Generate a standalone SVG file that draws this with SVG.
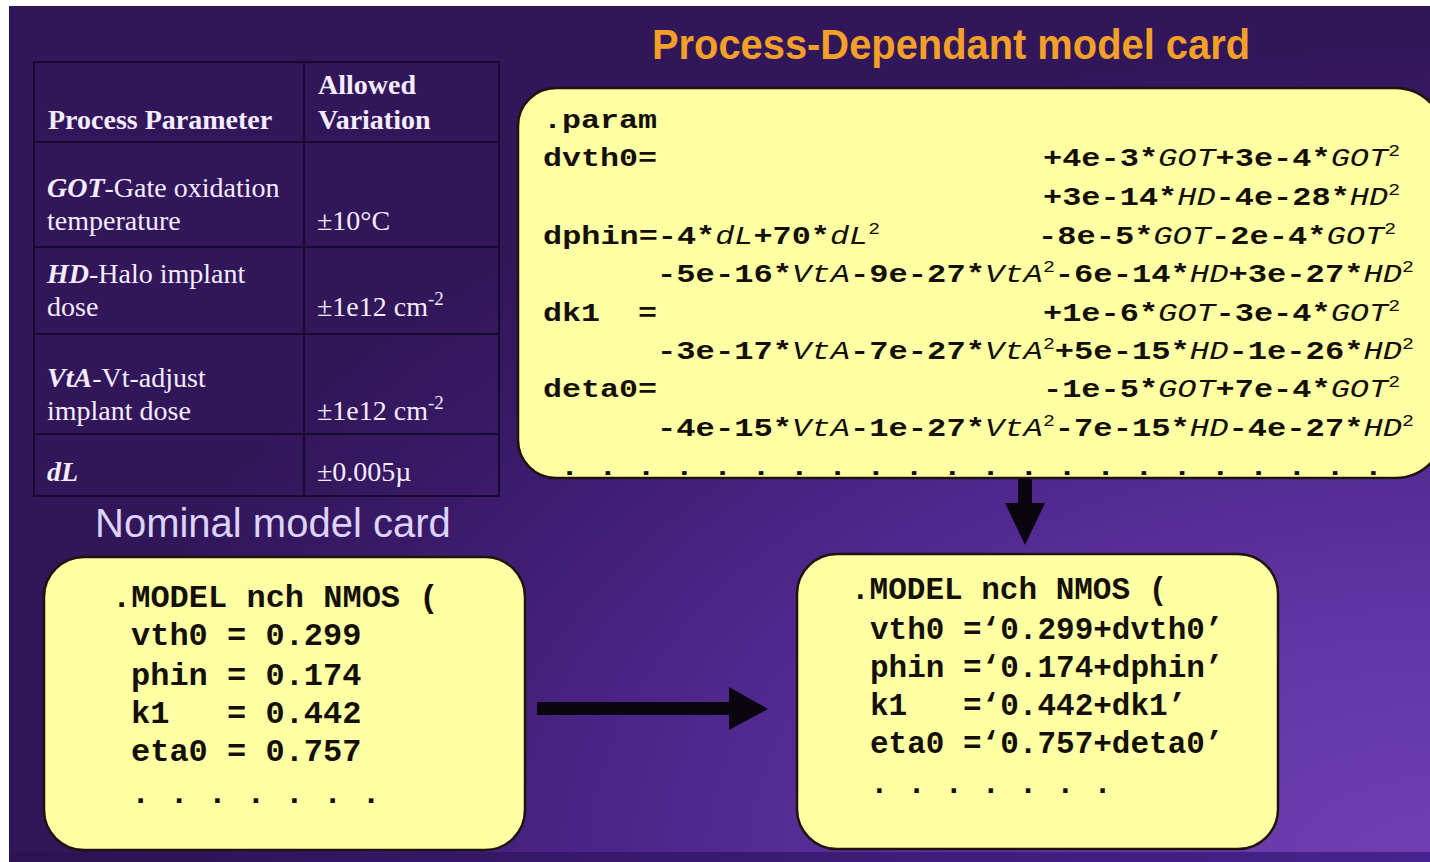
<svg xmlns="http://www.w3.org/2000/svg" width="1430" height="862" viewBox="0 0 1430 862">
<defs>
<radialGradient id="bg" gradientUnits="userSpaceOnUse" cx="1430" cy="860" r="1350" gradientTransform="translate(1430,860) scale(1,0.6) translate(-1430,-860)">
<stop offset="0" stop-color="#7040b0"/>
<stop offset="0.3" stop-color="#6234a4"/>
<stop offset="0.6" stop-color="#4c258a"/>
<stop offset="0.85" stop-color="#3a1a68"/>
<stop offset="1" stop-color="#32165a"/>
</radialGradient>
<linearGradient id="strip" x1="0" y1="0" x2="1" y2="0">
<stop offset="0" stop-color="#2c1252"/>
<stop offset="1" stop-color="#48228e"/>
</linearGradient>
<style>
.card{fill:#ffffa4;stroke:#1e140c;stroke-width:2.5}
.tb{fill:none;stroke:#170a2c;stroke-width:2}
.tt{font-family:"Liberation Serif","Times New Roman",serif;font-size:28px;fill:#f4ecff}
.th{font-weight:bold}
.bi{font-weight:bold;font-style:italic}
.mono{font-family:"Liberation Mono","Courier New",monospace;font-weight:bold;fill:#141008}
.pm{font-size:26px}
.bx{font-size:32px}
.bx2{font-size:31px}
.it{font-style:italic;font-weight:normal}
.sup{font-size:16px;font-weight:normal}
.arrow{fill:#0a0610}
</style>
</defs>
<rect x="0" y="0" width="1430" height="862" fill="#ffffff"/>
<rect x="9" y="6" width="1421" height="856" fill="url(#bg)"/>
<rect x="9" y="852" width="1421" height="10" fill="url(#strip)"/>

<text x="652" y="59" font-family="'Liberation Sans',Arial,sans-serif" font-weight="bold" font-size="42" fill="#f2a028" textLength="598" lengthAdjust="spacingAndGlyphs">Process-Dependant model card</text>
<text x="95" y="537" font-family="'Liberation Sans',Arial,sans-serif" font-size="40" fill="#dcd4fc">Nominal model card</text>

<g id="table">
<rect class="tb" x="34" y="62" width="465" height="434"/>
<line class="tb" x1="304" y1="62" x2="304" y2="496"/>
<line class="tb" x1="34" y1="142" x2="499" y2="142"/>
<line class="tb" x1="34" y1="247" x2="499" y2="247"/>
<line class="tb" x1="34" y1="334" x2="499" y2="334"/>
<line class="tb" x1="34" y1="434" x2="499" y2="434"/>
<text class="tt th" x="48" y="129">Process Parameter</text>
<text class="tt th" x="318" y="94">Allowed</text>
<text class="tt th" x="318" y="129">Variation</text>
<text class="tt" x="47" y="197"><tspan class="bi">GOT</tspan>-Gate oxidation</text>
<text class="tt" x="47" y="230">temperature</text>
<text class="tt" x="317" y="230">±10°C</text>
<text class="tt" x="47" y="283"><tspan class="bi">HD</tspan>-Halo implant</text>
<text class="tt" x="47" y="316">dose</text>
<text class="tt" x="317" y="316">±1e12 cm<tspan dy="-11" font-size="19">-2</tspan></text>
<text class="tt" x="47" y="387"><tspan class="bi">VtA</tspan>-Vt-adjust</text>
<text class="tt" x="47" y="420">implant dose</text>
<text class="tt" x="317" y="420">±1e12 cm<tspan dy="-11" font-size="19">-2</tspan></text>
<text class="tt" x="47" y="481"><tspan class="bi">dL</tspan></text>
<text class="tt" x="317" y="481">±0.005µ</text>
</g>

<g id="param-card">
<path class="card" d="M556,88 H1395 A50,50 0 0 1 1445,138 V428 A50,50 0 0 1 1395,478 H556 A38,38 0 0 1 518,440 V126 A38,38 0 0 1 556,88 Z"/>
<text class="mono pm" x="543" y="128" textLength="114" lengthAdjust="spacingAndGlyphs">.param</text>
<text class="mono pm" x="543" y="166" textLength="114" lengthAdjust="spacingAndGlyphs">dvth0=</text>
<text class="mono pm" x="1043" y="166" textLength="357" lengthAdjust="spacingAndGlyphs">+4e-3*<tspan class="it">GOT</tspan>+3e-4*<tspan class="it">GOT</tspan><tspan class="sup" dy="-10">2</tspan></text>
<text class="mono pm" x="1043" y="205" textLength="357" lengthAdjust="spacingAndGlyphs">+3e-14*<tspan class="it">HD</tspan>-4e-28*<tspan class="it">HD</tspan><tspan class="sup" dy="-10">2</tspan></text>
<text class="mono pm" x="543" y="244" textLength="337" lengthAdjust="spacingAndGlyphs">dphin=-4*<tspan class="it">dL</tspan>+70*<tspan class="it">dL</tspan><tspan class="sup" dy="-10">2</tspan></text>
<text class="mono pm" x="1038" y="244" textLength="358" lengthAdjust="spacingAndGlyphs">-8e-5*<tspan class="it">GOT</tspan>-2e-4*<tspan class="it">GOT</tspan><tspan class="sup" dy="-10">2</tspan></text>
<text class="mono pm" x="657" y="282" textLength="757" lengthAdjust="spacingAndGlyphs">-5e-16*<tspan class="it">VtA</tspan>-9e-27*<tspan class="it">VtA</tspan><tspan class="sup" dy="-10">2</tspan><tspan dy="10">-6e-14*</tspan><tspan class="it">HD</tspan>+3e-27*<tspan class="it">HD</tspan><tspan class="sup" dy="-10">2</tspan></text>
<text class="mono pm" x="543" y="321" textLength="114" lengthAdjust="spacingAndGlyphs" xml:space="preserve">dk1  =</text>
<text class="mono pm" x="1043" y="321" textLength="357" lengthAdjust="spacingAndGlyphs">+1e-6*<tspan class="it">GOT</tspan>-3e-4*<tspan class="it">GOT</tspan><tspan class="sup" dy="-10">2</tspan></text>
<text class="mono pm" x="657" y="359" textLength="757" lengthAdjust="spacingAndGlyphs">-3e-17*<tspan class="it">VtA</tspan>-7e-27*<tspan class="it">VtA</tspan><tspan class="sup" dy="-10">2</tspan><tspan dy="10">+5e-15*</tspan><tspan class="it">HD</tspan>-1e-26*<tspan class="it">HD</tspan><tspan class="sup" dy="-10">2</tspan></text>
<text class="mono pm" x="543" y="397" textLength="114" lengthAdjust="spacingAndGlyphs">deta0=</text>
<text class="mono pm" x="1043" y="397" textLength="357" lengthAdjust="spacingAndGlyphs">-1e-5*<tspan class="it">GOT</tspan>+7e-4*<tspan class="it">GOT</tspan><tspan class="sup" dy="-10">2</tspan></text>
<text class="mono pm" x="657" y="436" textLength="757" lengthAdjust="spacingAndGlyphs">-4e-15*<tspan class="it">VtA</tspan>-1e-27*<tspan class="it">VtA</tspan><tspan class="sup" dy="-10">2</tspan><tspan dy="10">-7e-15*</tspan><tspan class="it">HD</tspan>-4e-27*<tspan class="it">HD</tspan><tspan class="sup" dy="-10">2</tspan></text>
<text class="mono pm" x="560" y="475" textLength="823" lengthAdjust="spacingAndGlyphs">. . . . . . . . . . . . . . . . . . . . . .</text>
</g>

<g id="nominal-card">
<rect class="card" x="44" y="557" width="481" height="293" rx="40" ry="40"/>
<text class="mono bx" x="112" y="607">.MODEL nch NMOS (</text>
<text class="mono bx" x="131" y="645">vth0 = 0.299</text>
<text class="mono bx" x="131" y="685">phin = 0.174</text>
<text class="mono bx" x="131" y="723" xml:space="preserve">k1   = 0.442</text>
<text class="mono bx" x="131" y="761">eta0 = 0.757</text>
<text class="mono bx" x="131" y="803">. . . . . . .</text>
</g>

<g id="result-card">
<rect class="card" x="797" y="554" width="481" height="295" rx="40" ry="40"/>
<text class="mono bx2" x="851" y="599">.MODEL nch NMOS (</text>
<text class="mono bx2" x="870" y="639">vth0 =‘0.299+dvth0’</text>
<text class="mono bx2" x="870" y="677">phin =‘0.174+dphin’</text>
<text class="mono bx2" x="870" y="715" xml:space="preserve">k1   =‘0.442+dk1’</text>
<text class="mono bx2" x="870" y="753">eta0 =‘0.757+deta0’</text>
<text class="mono bx2" x="870" y="793">. . . . . . .</text>
</g>

<g id="connectors">
<path class="arrow" d="M537,702 H729 V687 L768,709 L729,730 V715 H537 Z"/>
<path class="arrow" d="M1018,479 H1032 V503 H1045 L1025,545 L1005,503 H1018 Z"/>
</g>
</svg>
